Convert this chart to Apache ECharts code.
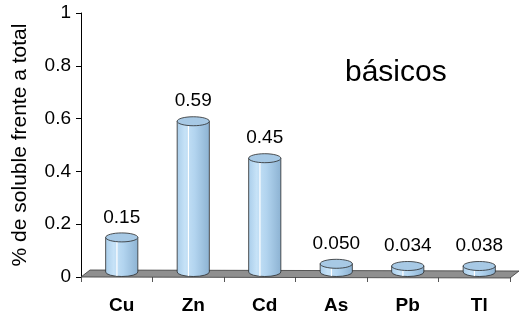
<!DOCTYPE html>
<html><head><meta charset="utf-8">
<script src="https://cdn.jsdelivr.net/npm/echarts@6/dist/echarts.min.js"></script>
<style>html,body{margin:0;padding:0;background:#fff}#c{width:528px;height:326px}</style>
</head><body><div id="c"></div>
<script>
const categories = ['Cu','Zn','Cd','As','Pb','Tl'];
const values = [0.15, 0.59, 0.45, 0.050, 0.034, 0.038];
const valueLabels = ['0.15','0.59','0.45','0.050','0.034','0.038'];
const yTicks = [0, 0.2, 0.4, 0.6, 0.8, 1];
const titleText = 'básicos';
const yName = '% de soluble frente a total';

const FONT = '"Liberation Sans", Arial, sans-serif';
const chart = echarts.init(document.getElementById('c'), null, {renderer: 'canvas'});

function renderBar(params, api) {
  const idx = api.value(0);
  const top = api.coord([idx, api.value(1)]);
  const zero = api.coord([idx, 0]);
  const bw = api.size([1, 0])[0] * 0.45;
  const cx = top[0] + 5;
  const rx = bw / 2, ry = 4.5;
  const baseY = zero[1] - 5;
  const topY = Math.min(top[1], baseY - 6);
  const grad = new echarts.graphic.LinearGradient(0, 0, 1, 0, [
    {offset: 0, color: '#a9cdea'},
    {offset: 0.25, color: '#c6e2f7'},
    {offset: 0.55, color: '#b2d4ef'},
    {offset: 1, color: '#8cb2d2'}
  ]);
  const pathData = 'M' + (cx - rx) + ' ' + topY + ' L' + (cx - rx) + ' ' + baseY +
    ' A' + rx + ' ' + ry + ' 0 0 0 ' + (cx + rx) + ' ' + baseY +
    ' L' + (cx + rx) + ' ' + topY + ' Z';
  return {
    type: 'group',
    children: [
      {type: 'path', shape: {pathData: pathData}, style: {fill: grad, stroke: '#2a2a2a', lineWidth: 0.8}},
      {type: 'line', shape: {x1: cx - rx * 0.3, y1: topY + ry, x2: cx - rx * 0.3, y2: baseY + ry * 0.9},
        style: {stroke: '#ffffff', lineWidth: 1.2}},
      {type: 'ellipse', shape: {cx: cx, cy: topY, rx: rx, ry: ry},
        style: {fill: '#a7c9e5', stroke: '#2a2a2a', lineWidth: 0.8}},
      {type: 'text', style: {text: valueLabels[idx], x: cx, y: topY - 20, align: 'center', verticalAlign: 'middle',
        font: '19px ' + FONT, fill: '#000'}}
    ]
  };
}

function renderFloor(params, api) {
  const cs = params.coordSys;
  const x = cs.x, y = cs.y + cs.height, w = cs.width;
  return {
    type: 'polygon',
    shape: {points: [[x, y], [x + w, y + 1], [x + w + 9, y - 6], [x + 9, y - 7]]},
    style: {fill: '#8f8f8f', stroke: '#3a3a3a', lineWidth: 0.8}
  };
}

chart.setOption({
  animation: false,
  backgroundColor: '#fff',
  grid: {left: 81, right: 18, top: 13, bottom: 49},
  graphic: [{
    type: 'text', left: 345, top: 58,
    style: {text: titleText, font: '30px ' + FONT, fill: '#000'}
  }],
  xAxis: {
    type: 'category',
    data: categories,
    axisLine: {show: false},
    axisTick: {show: true, length: 5, lineStyle: {color: '#555'}},
    axisLabel: {margin: 19, padding: [0, 0, 0, 10], color: '#000', fontFamily: FONT, fontSize: 19, fontWeight: 'bold'}
  },
  yAxis: {
    type: 'value', min: 0, max: 1, interval: 0.2,
    name: yName, nameLocation: 'middle', nameGap: 50,
    nameTextStyle: {fontFamily: FONT, fontSize: 21, color: '#000'},
    axisLine: {show: true, lineStyle: {color: '#000', width: 1}},
    axisTick: {show: true, length: 5, lineStyle: {color: '#000'}},
    axisLabel: {margin: 10, color: '#000', fontFamily: FONT, fontSize: 19,
      formatter: function (v) { return yTicks.indexOf(v) >= 0 ? String(v) : ''; }},
    splitLine: {show: false}
  },
  series: [
    {type: 'custom', renderItem: renderFloor, data: [[0, 0]], z: 1, silent: true},
    {type: 'custom', renderItem: renderBar, data: values.map(function (v, i) { return [i, v]; }), z: 2,
      encode: {x: 0, y: 1}}
  ]
});
</script>
</body></html>
